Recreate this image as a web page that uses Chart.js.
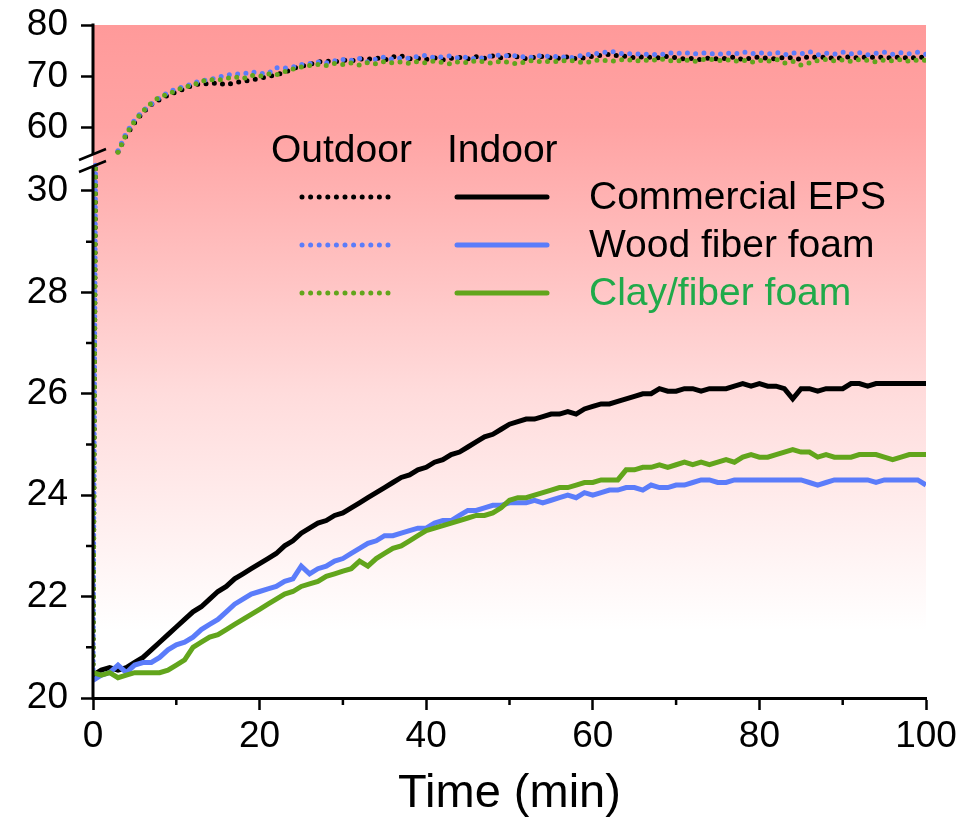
<!DOCTYPE html>
<html>
<head>
<meta charset="utf-8">
<script src="https://cdn.jsdelivr.net/npm/chart.js@4.4.1/dist/chart.umd.min.js"></script>
<style>
  html, body { margin: 0; padding: 0; background: #fff; }
</style>
</head>
<body>
<canvas id="grafico" width="974" height="822"></canvas>
<script>
// tiempo (min), una lectura por minuto
const minutos = [0,1,2,3,4,5,6,7,8,9,10,11,12,13,14,15,16,17,18,19,20,21,22,23,24,25,26,27,28,29,30,
  31,32,33,34,35,36,37,38,39,40,41,42,43,44,45,46,47,48,49,50,51,52,53,54,55,56,57,58,59,60,
  61,62,63,64,65,66,67,68,69,70,71,72,73,74,75,76,77,78,79,80,81,82,83,84,85,86,87,88,89,90,
  91,92,93,94,95,96,97,98,99,100];

// interior (°C)
const interiorEPS = [20.45,20.55,20.6,20.55,20.6,20.7,20.8,20.95,21.1,21.25,
  21.4,21.55,21.7,21.8,21.95,22.1,22.2,22.35,22.45,22.55,
  22.65,22.75,22.85,23.0,23.1,23.25,23.35,23.45,23.5,23.6,
  23.65,23.75,23.85,23.95,24.05,24.15,24.25,24.35,24.4,24.5,
  24.55,24.65,24.7,24.8,24.85,24.95,25.05,25.15,25.2,25.3,
  25.4,25.45,25.5,25.5,25.55,25.6,25.6,25.65,25.6,25.7,
  25.75,25.8,25.8,25.85,25.9,25.95,26.0,26.0,26.1,26.05,
  26.05,26.1,26.1,26.05,26.1,26.1,26.1,26.15,26.2,26.15,
  26.2,26.15,26.15,26.1,25.9,26.1,26.1,26.05,26.1,26.1,
  26.1,26.2,26.2,26.15,26.2,26.2,26.2,26.2,26.2,26.2,
  26.2];
const interiorMadera = [20.35,20.45,20.5,20.65,20.5,20.65,20.7,20.7,20.8,20.95,
  21.05,21.1,21.2,21.35,21.45,21.55,21.7,21.85,21.95,22.05,
  22.1,22.15,22.2,22.3,22.35,22.6,22.45,22.55,22.6,22.7,
  22.75,22.85,22.95,23.05,23.1,23.2,23.2,23.25,23.3,23.35,
  23.35,23.45,23.5,23.5,23.6,23.7,23.7,23.75,23.8,23.8,
  23.85,23.85,23.85,23.9,23.85,23.9,23.95,24.0,23.95,24.05,
  24.0,24.05,24.1,24.1,24.15,24.15,24.1,24.2,24.15,24.15,
  24.2,24.2,24.25,24.3,24.3,24.25,24.25,24.3,24.3,24.3,
  24.3,24.3,24.3,24.3,24.3,24.3,24.25,24.2,24.25,24.3,
  24.3,24.3,24.3,24.3,24.25,24.3,24.3,24.3,24.3,24.3,
  24.2];
const interiorArcilla = [20.5,20.45,20.5,20.4,20.45,20.5,20.5,20.5,20.5,20.55,
  20.65,20.75,21.0,21.1,21.2,21.25,21.35,21.45,21.55,21.65,
  21.75,21.85,21.95,22.05,22.1,22.2,22.25,22.3,22.4,22.45,
  22.5,22.55,22.7,22.6,22.75,22.85,22.95,23.0,23.1,23.2,
  23.3,23.35,23.4,23.45,23.5,23.55,23.6,23.6,23.65,23.75,
  23.9,23.95,23.95,24.0,24.05,24.1,24.15,24.15,24.2,24.25,
  24.25,24.3,24.3,24.3,24.5,24.5,24.55,24.55,24.6,24.55,
  24.6,24.65,24.6,24.65,24.6,24.65,24.7,24.65,24.75,24.8,
  24.75,24.75,24.8,24.85,24.9,24.85,24.85,24.75,24.8,24.75,
  24.75,24.75,24.8,24.8,24.8,24.75,24.7,24.75,24.8,24.8,
  24.8];

// exterior: subida inicial (tramo inferior del eje)
const subidaTiempo = [0, 0.3];
const subidaEPS = [20.5, 30.6];
const subidaMadera = [20.4, 30.6];
const subidaArcilla = [20.5, 30.6];

// exterior: desde el minuto 3 (tramo superior del eje)
const exteriorTiempo = minutos.slice(3);
const exteriorEPS = [55.3,58.5,61.0,63.0,64.5,65.5,66.3,67.0,67.6,68.3,
  68.6,68.5,68.8,68.3,68.8,69.0,69.3,69.6,70.0,70.3,
  70.8,71.5,72.0,72.3,72.8,73.0,72.8,73.2,73.0,73.4,
  73.3,73.6,73.2,73.8,74.0,73.4,73.5,73.3,73.6,73.2,
  73.5,73.7,73.4,73.8,73.5,74.0,73.6,74.1,73.8,73.4,
  73.7,73.9,73.6,73.5,73.8,73.4,73.6,73.9,74.1,74.3,
  74.0,73.9,73.6,73.8,73.7,73.6,73.9,73.6,73.4,73.5,
  73.2,73.6,73.4,73.5,73.8,73.2,73.6,73.8,73.5,73.4,
  73.7,73.6,73.3,73.9,73.6,73.8,73.4,73.7,73.8,73.5,
  73.9,73.6,73.8,73.5,73.9,73.4,73.8,73.6];
const exteriorMadera = [55.5,59.0,61.5,63.3,64.6,65.9,66.8,67.6,68.0,68.6,
  69.2,69.3,69.8,70.2,70.5,70.4,70.9,70.6,70.5,71.7,
  71.6,71.8,72.3,72.5,72.8,72.6,73.0,73.3,73.1,73.5,
  72.8,73.4,73.8,73.3,73.6,73.5,73.9,74.1,73.6,73.8,
  74.0,73.5,73.8,73.3,73.7,74.0,74.2,73.9,74.1,73.6,
  73.8,74.2,73.7,74.0,73.5,73.9,74.1,74.4,74.5,74.9,
  74.6,74.3,74.5,74.2,74.4,74.1,74.6,74.4,74.7,74.3,
  74.6,74.5,74.2,74.6,74.3,74.8,74.4,74.6,74.3,74.7,
  74.2,74.6,74.4,74.8,74.2,74.5,74.3,74.7,74.4,74.6,
  74.2,74.5,74.7,74.3,74.6,74.4,74.7,74.3];
const exteriorArcilla = [55.2,58.8,61.3,63.2,64.8,66.0,66.5,67.3,67.9,68.3,
  69.0,69.4,69.2,69.6,69.9,69.5,70.2,70.0,70.5,70.3,
  70.9,71.4,71.8,72.1,72.3,72.1,72.5,72.3,72.6,72.2,
  72.7,72.4,72.9,72.6,72.8,72.5,72.9,72.6,73.0,72.7,
  72.4,72.9,72.6,73.1,72.8,72.5,73.0,72.7,72.4,72.9,
  73.1,72.7,73.0,72.8,73.2,72.9,72.6,73.0,73.3,72.9,
  73.1,73.4,72.9,73.2,73.0,73.5,73.1,72.9,73.3,72.8,
  73.2,73.4,73.0,73.3,72.9,73.2,72.7,73.1,72.9,73.3,
  72.6,72.9,72.2,72.6,73.1,73.3,73.0,73.2,72.9,73.3,
  73.1,72.8,73.2,73.0,73.3,72.9,73.2,73.1];

const materiales = ['Commercial EPS', 'Wood fiber foam', 'Clay/fiber foam'];
const colores = ['#000000', '#5b7cfa', '#62a51c'];
const colorTexto = ['#000000', '#000000', '#1faa4a'];

const xTicks = [0, 20, 40, 60, 80, 100];
const xMenores = [10, 30, 50, 70, 90];
const yTicksBajo = [20, 22, 24, 26, 28, 30];
const yMenoresBajo = [21, 23, 25, 27, 29];
const yTicksAlto = [60, 70, 80];

const FUENTE = '"Liberation Sans", Arial, sans-serif';

function serie(tiempos, valores) {
  return valores.map((v, i) => ({ x: tiempos[i], y: v }));
}

function punteada(datos, color, eje) {
  return {
    data: datos, yAxisID: eje, borderColor: color, borderWidth: 5,
    borderDash: [0, 8.4], borderCapStyle: 'round', borderJoinStyle: 'round',
    pointRadius: 0, tension: 0, fill: false
  };
}
function continua(datos, color) {
  return {
    data: datos, yAxisID: 'yBajo', borderColor: color, borderWidth: 5,
    borderJoinStyle: 'miter', pointRadius: 0, tension: 0, fill: false
  };
}

const decoracion = {
  id: 'decoracion',
  beforeDraw(chart) {
    const { ctx, chartArea: a } = chart;
    const g = ctx.createLinearGradient(0, a.top, 0, a.bottom);
    g.addColorStop(0, '#ff9a9a');
    g.addColorStop(0.15, '#ffa3a3');
    g.addColorStop(0.55, '#ffdcdc');
    g.addColorStop(0.9, '#ffffff');
    g.addColorStop(1, '#ffffff');
    ctx.save();
    ctx.fillStyle = g;
    ctx.fillRect(a.left, a.top, a.right - a.left, a.bottom - a.top);
    ctx.restore();
  },
  afterDraw(chart) {
    const { ctx, chartArea: a, scales } = chart;
    const x0 = a.left;
    const corte = scales.yBajo.top;
    const gapArriba = corte - 6, gapAbajo = corte + 6;
    ctx.save();
    ctx.strokeStyle = '#000';
    ctx.lineCap = 'butt';
    // eje y partido
    ctx.lineWidth = 3;
    ctx.beginPath();
    ctx.moveTo(x0, a.top - 1.5); ctx.lineTo(x0, gapArriba);
    ctx.moveTo(x0, gapAbajo); ctx.lineTo(x0, a.bottom + 1.5);
    ctx.stroke();
    ctx.lineWidth = 2.5;
    ctx.beginPath();
    [gapArriba, gapAbajo].forEach(y => {
      ctx.moveTo(x0 - 14, y + 6); ctx.lineTo(x0 + 13, y - 5);
    });
    ctx.stroke();
    // ticks menores
    ctx.lineWidth = 2.5;
    ctx.beginPath();
    yMenoresBajo.forEach(v => {
      const y = scales.yBajo.getPixelForValue(v);
      ctx.moveTo(x0 - 7, y); ctx.lineTo(x0, y);
    });
    xMenores.forEach(v => {
      const x = scales.x.getPixelForValue(v);
      ctx.moveTo(x, a.bottom); ctx.lineTo(x, a.bottom + 7);
    });
    ctx.stroke();

    // leyenda
    ctx.font = '39px ' + FUENTE;
    ctx.textBaseline = 'middle';
    ctx.textAlign = 'left';
    ctx.fillStyle = '#000';
    ctx.fillText('Outdoor', 271, 151);
    ctx.fillText('Indoor', 447, 151);
    const filas = [197, 245, 293];
    filas.forEach((y, i) => {
      ctx.strokeStyle = colores[i];
      ctx.lineWidth = 5;
      ctx.lineCap = 'round';
      ctx.setLineDash([0, 8.6]);
      ctx.beginPath(); ctx.moveTo(302, y); ctx.lineTo(389, y); ctx.stroke();
      ctx.setLineDash([]);
      ctx.lineWidth = 5;
      ctx.beginPath(); ctx.moveTo(457, y); ctx.lineTo(547, y); ctx.stroke();
      ctx.fillStyle = colorTexto[i];
      ctx.fillText(materiales[i], 589, y + 1);
    });
    ctx.restore();
  }
};

const ticksFont = { family: FUENTE, size: 37 };
const gridEje = { drawOnChartArea: false, drawTicks: true, tickLength: 12, tickWidth: 2.5, tickColor: '#000', color: '#000' };

new Chart(document.getElementById('grafico').getContext('2d'), {
  type: 'line',
  data: {
    datasets: [
      continua(serie(minutos, interiorArcilla), colores[2]),
      continua(serie(minutos, interiorMadera), colores[1]),
      continua(serie(minutos, interiorEPS), colores[0]),
      punteada(serie(exteriorTiempo, exteriorArcilla), colores[2], 'yAlto'),
      punteada(serie(exteriorTiempo, exteriorMadera), colores[1], 'yAlto'),
      punteada(serie(exteriorTiempo, exteriorEPS), colores[0], 'yAlto'),
      punteada(serie(subidaTiempo, subidaArcilla), colores[2], 'yBajo'),
      punteada(serie(subidaTiempo, subidaMadera), colores[1], 'yBajo'),
      punteada(serie(subidaTiempo, subidaEPS), colores[0], 'yBajo')
    ]
  },
  options: {
    responsive: false,
    animation: false,
    devicePixelRatio: 1,
    layout: { padding: { top: 25, right: 48, left: 0, bottom: 0 } },
    plugins: { legend: { display: false }, tooltip: { enabled: false } },
    scales: {
      x: {
        type: 'linear', min: 0, max: 100,
        afterBuildTicks: s => { s.ticks = xTicks.map(v => ({ value: v })); },
        afterFit: s => { s.height = 124; s.paddingLeft = 0; s.paddingRight = 0; },
        ticks: { font: ticksFont, color: '#000', padding: 5, maxRotation: 0, autoSkip: false },
        grid: gridEje,
        border: { display: true, color: '#000', width: 3 },
        title: { display: true, text: 'Time (min)', color: '#000', font: { family: FUENTE, size: 47 }, padding: { top: 0, bottom: 0 } }
      },
      yBajo: {
        type: 'linear', position: 'left', stack: 'temp', stackWeight: 538,
        min: 20, max: 30.61,
        afterBuildTicks: s => { s.ticks = yTicksBajo.map(v => ({ value: v })); },
        afterFit: s => { s.width = 93; s.paddingTop = 0; s.paddingBottom = 0; },
        ticks: { font: ticksFont, color: '#000', padding: 13, autoSkip: false },
        grid: gridEje,
        border: { display: false }
      },
      yAlto: {
        type: 'linear', position: 'left', stack: 'temp', stackWeight: 135,
        min: 53.7, max: 80,
        afterBuildTicks: s => { s.ticks = yTicksAlto.map(v => ({ value: v })); },
        afterFit: s => { s.width = 93; s.paddingTop = 0; s.paddingBottom = 0; },
        ticks: { font: ticksFont, color: '#000', padding: 13, autoSkip: false },
        grid: gridEje,
        border: { display: false }
      }
    }
  },
  plugins: [decoracion]
});
</script>
</body>
</html>
